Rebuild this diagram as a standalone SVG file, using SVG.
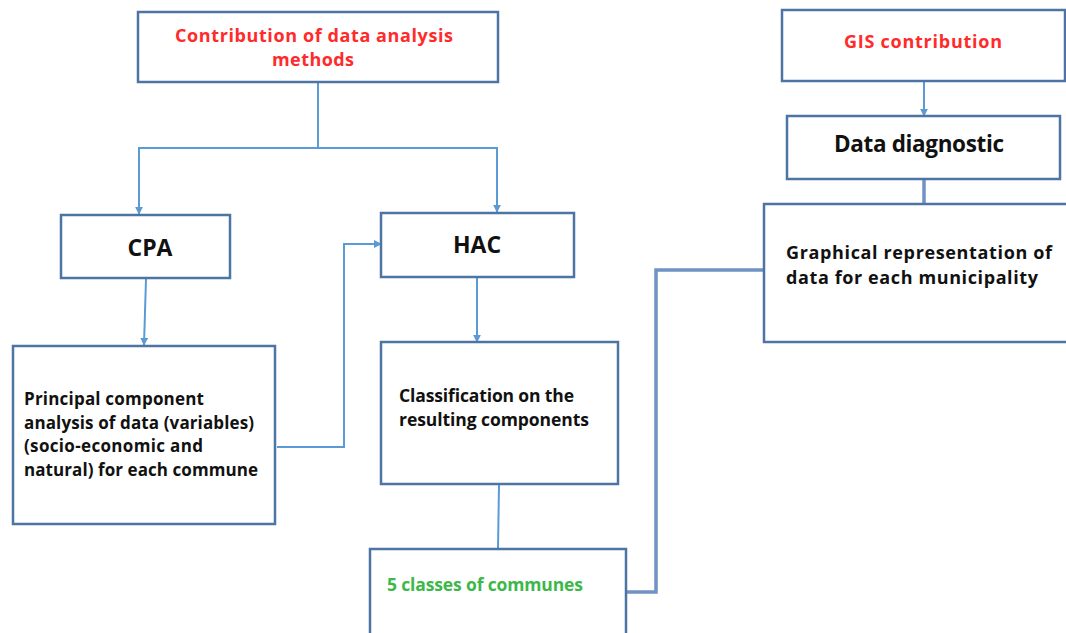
<svg xmlns="http://www.w3.org/2000/svg" width="1066" height="633" viewBox="0 0 1066 633">
<defs>
<style>
.box{fill:#fff;stroke:#4e74a3;stroke-width:2.5}
.t{font-family:"Open Sans","Liberation Sans",Arial,sans-serif;font-weight:bold;fill:#111}
.red{fill:#ff2a2a}
.green{fill:#3cb849}
.c{fill:none;stroke:#5b9bd5;stroke-width:2}
.ct{fill:none;stroke:#7093c3;stroke-width:3.5}
</style>
<marker id="ar" viewBox="0 0 10 10" refX="9" refY="5" markerWidth="4" markerHeight="4" orient="auto" markerUnits="strokeWidth">
<path d="M0,0 L10,5 L0,10 z" fill="#5b9bd5"/>
</marker>
</defs>
<rect width="1066" height="633" fill="#fff"/>
<g id="connectors">
<path class="c" d="M318,82 V148 M138,148 H498"/>
<path class="c" d="M139,148 V214" marker-end="url(#ar)"/>
<path class="c" d="M497,148 V212" marker-end="url(#ar)"/>
<path class="c" d="M146,279 L144,345" marker-end="url(#ar)"/>
<path class="c" d="M277,447 H344 V244 H381" marker-end="url(#ar)"/>
<path class="c" d="M477,278 V342" marker-end="url(#ar)"/>
<path class="c" d="M499,485 L498,549"/>
<path class="c" d="M924,81 V116" marker-end="url(#ar)"/>
<path class="ct" d="M924,180 V204"/>
<path class="ct" d="M627,592 H656 V270 H764"/>
</g>
<g id="n-dam">
<rect class="box" x="138" y="12" width="360" height="70"/>
<text class="t red" font-size="18" x="175" y="42" textLength="278" lengthAdjust="spacing">Contribution of data analysis</text>
<text class="t red" font-size="18" x="272" y="66" textLength="82" lengthAdjust="spacing">methods</text>
</g>
<g id="n-gis">
<rect class="box" x="782" y="10" width="283" height="71"/>
<text class="t red" font-size="18" x="844" y="48" textLength="158" lengthAdjust="spacing">GIS contribution</text>
</g>
<g id="n-diag">
<rect class="box" x="787" y="116" width="273" height="63"/>
<text class="t" font-size="22.5" x="834" y="152" textLength="170" lengthAdjust="spacing">Data diagnostic</text>
</g>
<g id="n-cpa">
<rect class="box" x="61" y="215" width="169" height="63"/>
<text class="t" font-size="23" x="150" y="256" text-anchor="middle">CPA</text>
</g>
<g id="n-hac">
<rect class="box" x="381" y="213" width="193" height="64"/>
<text class="t" font-size="23" x="477" y="253" text-anchor="middle">HAC</text>
</g>
<g id="n-pca">
<rect class="box" x="13" y="346" width="262" height="178"/>
<text class="t" font-size="17" x="24" y="405" textLength="180" lengthAdjust="spacing">Principal component</text>
<text class="t" font-size="17" x="24" y="429" textLength="230" lengthAdjust="spacing">analysis of data (variables)</text>
<text class="t" font-size="17" x="24" y="452" textLength="179" lengthAdjust="spacing">(socio-economic and</text>
<text class="t" font-size="17" x="24" y="476" textLength="234" lengthAdjust="spacing">natural) for each commune</text>
</g>
<g id="n-class">
<rect class="box" x="381" y="342" width="237" height="142"/>
<text class="t" font-size="17.5" x="399" y="402" textLength="175" lengthAdjust="spacing">Classification on the</text>
<text class="t" font-size="17.5" x="399" y="426" textLength="190" lengthAdjust="spacing">resulting components</text>
</g>
<g id="n-five">
<rect class="box" x="370" y="549" width="256" height="95"/>
<text class="t green" font-size="17.5" x="387" y="591" textLength="196" lengthAdjust="spacing">5 classes of communes</text>
</g>
<g id="n-graph">
<rect class="box" x="764" y="204" width="306" height="138"/>
<text class="t" font-size="18" x="786" y="259" textLength="266" lengthAdjust="spacing">Graphical representation of</text>
<text class="t" font-size="18" x="786" y="284" textLength="252" lengthAdjust="spacing">data for each municipality</text>
</g>
</svg>
